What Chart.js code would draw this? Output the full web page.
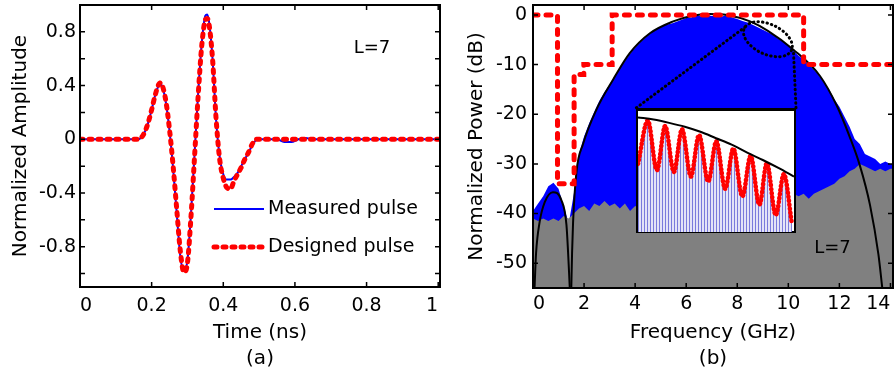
<!DOCTYPE html>
<html>
<head>
<meta charset="utf-8">
<script src="https://cdn.jsdelivr.net/npm/chart.js@4.4.1/dist/chart.umd.min.js"></script>
<style>
  html, body { margin: 0; padding: 0; background: #fff; }
  #wrap { position: relative; width: 894px; height: 378px; overflow: hidden; }
  #pulseCanvas { position: absolute; left: 0; top: 0; }
  #specCanvas { position: absolute; left: 450px; top: 0; }
  #inset { position: absolute; background: #fff; border: 2px solid #000; border-top-width: 3px; box-sizing: border-box; }
  #inset canvas { display: block; }
</style>
</head>
<body>
<div id="wrap">
  <canvas id="pulseCanvas" width="447" height="378"></canvas>
  <canvas id="specCanvas" width="444" height="378"></canvas>
  <div id="inset"><canvas id="insetCanvas"></canvas></div>
</div>
<script>
// ---- (a) time domain pulse ----
const pulseTime = [0, 0.05, 0.10, 0.15, 0.16, 0.17, 0.18, 0.19, 0.20, 0.21, 0.22, 0.225, 0.23, 0.24, 0.25, 0.26, 0.27, 0.28, 0.29, 0.30,
  0.31, 0.32, 0.33, 0.34, 0.35, 0.355, 0.36, 0.37, 0.38, 0.39, 0.40, 0.41, 0.42, 0.43, 0.44, 0.45, 0.46, 0.47, 0.48, 0.49,
  0.50, 0.55, 0.57, 0.59, 0.61, 0.63, 0.65, 0.70, 0.80, 0.90, 1.0];
const designedPulse = [0, 0, 0, 0, 0, 0.01, 0.05, 0.12, 0.22, 0.33, 0.41, 0.42, 0.40, 0.28, 0.07, -0.2, -0.52, -0.83, -0.99, -0.92,
  -0.57, -0.12, 0.33, 0.70, 0.89, 0.90, 0.86, 0.60, 0.15, -0.15, -0.29, -0.36, -0.37, -0.31, -0.26, -0.21, -0.15, -0.10, -0.04, 0,
  0, 0, 0, 0, 0, 0, 0, 0, 0, 0, 0];
const measuredPulse = [0, 0, 0, 0, 0, 0.01, 0.05, 0.12, 0.22, 0.33, 0.40, 0.41, 0.39, 0.27, 0.06, -0.22, -0.55, -0.87, -0.98, -0.9,
  -0.55, -0.1, 0.35, 0.72, 0.92, 0.93, 0.88, 0.6, 0.14, -0.13, -0.26, -0.3, -0.3, -0.28, -0.25, -0.2, -0.15, -0.1, -0.05, -0.01,
  0, 0, -0.02, -0.02, 0, 0.01, 0, 0, 0, 0, 0];
const timeTicks = [0, 0.2, 0.4, 0.6, 0.8, 1];
const timeTickLabels = ['0', '0.2', '0.4', '0.6', '0.8', '1'];
const ampTicks = [-1, -0.8, -0.6, -0.4, -0.2, 0, 0.2, 0.4, 0.6, 0.8, 1];
const ampTickLabels = ['', '-0.8', '', '-0.4', '', '0', '', '0.4', '', '0.8', ''];

// ---- (b) spectrum ----
const freqGrid = [0, 0.2, 0.4, 0.6, 0.8, 1.0, 1.2, 1.4, 1.6, 1.8, 2.0, 2.2, 2.4, 2.6, 2.8, 3.0, 3.2, 3.4, 3.6, 3.8,
  4.0, 4.2, 4.4, 4.6, 4.8, 5.0, 5.2, 5.4, 5.6, 5.8, 6.0, 6.2, 6.4, 6.6, 6.8, 7.0, 7.2, 7.4, 7.6, 7.8,
  8.0, 8.2, 8.4, 8.6, 8.8, 9.0, 9.2, 9.4, 9.6, 9.8, 10.0, 10.2, 10.4, 10.6, 10.8, 11.0, 11.2, 11.4, 11.6, 11.8,
  12.0, 12.2, 12.4, 12.6, 12.8, 13.0, 13.2, 13.4, 13.6, 13.8, 14.0, 14.1];
const spectrumDb = [-39.5, -38, -36.5, -34.5, -33.8, -35, -38.5, -42, -36, -28, -24.5, -21.8, -19.5, -17.3, -15.5, -14, -12.3, -10.8, -9.3, -7.8,
  -6.6, -5.5, -4.6, -3.7, -3, -2.4, -2, -1.8, -1.4, -1, -0.6, -0.5, 0, -0.3, 0, -0.2, 0, -0.3, 0, -0.5,
  -0.8, -1.2, -1.5, -2, -2.5, -3, -3.5, -4, -4.8, -5.4, -6.2, -7.2, -8.2, -9, -10, -11, -12.2, -13.6, -15, -17,
  -18.5, -20.5, -22.5, -25, -26, -28, -28.5, -29, -30, -29.5, -30, -30];
const noiseDb = [-41, -41.5, -41, -41.5, -41, -41.5, -40.5, -41, -40, -39, -38.5, -39.5, -38, -38.5, -37.5, -38.5, -38, -39, -38, -39.5,
  -38.5, -39, -38, -38.5, -37.5, -38.5, -37.5, -38.5, -37, -38, -37.5, -38.5, -37.5, -37, -38, -37, -37.5, -36.5, -37.5, -36.5,
  -37, -36, -37, -36, -35.5, -36.5, -35.5, -36, -35, -35.5, -35, -36, -36.5, -36, -37, -36, -35.5, -35, -34.5, -34,
  -33, -32.5, -31.5, -31, -30, -30.5, -31, -31.5, -31, -31.5, -31, -31];
const sideLobeFreq = [0.06, 0.12, 0.26, 0.46, 0.78, 1.11, 1.31, 1.41, 1.44];
const sideLobeDb = [-55, -48, -41.7, -37.7, -35.7, -37.3, -42.3, -51.6, -55];
const mainLobeFreq = [1.5, 1.53, 1.57, 1.7, 1.96, 2.49, 3.14, 3.79, 4.58, 5.49, 6.2, 6.9, 7.6, 8.5, 9.2, 10.2, 11.24, 11.9, 12.4, 12.8, 13.2, 13.53, 13.68];
const mainLobeDb = [-55, -48, -41.7, -31.7, -26, -19, -13, -7.7, -3.7, -1.3, -0.2, 0.2, 0, -1.3, -3.2, -7, -12.3, -18.3, -24.5, -30.3, -38.3, -48.3, -55];
const maskFreq = [0, 0.96, 0.96, 1.61, 1.61, 1.99, 1.99, 3.1, 3.1, 10.6, 10.6, 14.1];
const maskDb = [0, 0, -34, -34, -12, -12, -10, -10, 0, 0, -10, -10];
const freqTicks = [0, 2, 4, 6, 8, 10, 12, 14];
const powerTicks = [-50, -40, -30, -20, -10, 0];
const zoomLineA = [[4.05, -18.7], [8.37, -2.2]];
const zoomLineB = [[10.3, -18.7], [10.2, -7.2]];
const insetFreq = [4.05, 10.3];
const insetDb = [-44, -18.7];
const zoomCenter = [9.2, -4.9];

// ---- inset (zoom of the band edge), normalised box units ----
const insetEnvPos = [0, 0.1, 0.2, 0.3, 0.4, 0.5, 0.6, 0.7, 0.8, 0.9, 1.0];
const insetEnvLevel = [94.7, 92.9, 90.2, 87.0, 82.8, 77.5, 72.2, 65.6, 59.5, 52.9, 45.8];
const insetRipplePos = [0, 0.063, 0.121, 0.174, 0.23, 0.282, 0.339, 0.391, 0.45, 0.502, 0.559, 0.611, 0.669, 0.722, 0.778, 0.826, 0.883, 0.935, 0.987];
const insetRippleLevel = [56.3, 92.1, 51.1, 87.6, 49.7, 84.9, 45.8, 80.2, 41.8, 74.9, 35.7, 69.0, 29.4, 63.0, 22.5, 56.9, 14.0, 47.9, 6.6];

Chart.defaults.font.family = "'DejaVu Sans', sans-serif";
Chart.defaults.color = '#000';

const xy = (xs, ys) => xs.map((v, i) => ({ x: v, y: ys[i] }));
const pairs = p => p.map(([x, y]) => ({ x, y }));
// keep the plot box where the figure has it: no extra room for overhanging labels
const noOverhang = s => { s.paddingLeft = 0; s.paddingRight = 0; s.paddingTop = 0; s.paddingBottom = 0; };

// MATLAB style box with inward ticks on all four sides
const matlabBox = {
  id: 'matlabBox',
  afterDatasetsDraw(chart) {
    const { ctx, chartArea: a, scales: { x, y } } = chart;
    ctx.save();
    ctx.strokeStyle = '#000';
    ctx.lineWidth = 1.5;
    ctx.beginPath();
    x.ticks.forEach(t => {
      const px = x.getPixelForValue(t.value);
      ctx.moveTo(px, a.bottom); ctx.lineTo(px, a.bottom - 5);
      ctx.moveTo(px, a.top); ctx.lineTo(px, a.top + 5);
    });
    y.ticks.forEach(t => {
      const py = y.getPixelForValue(t.value);
      ctx.moveTo(a.left, py); ctx.lineTo(a.left + 5, py);
      ctx.moveTo(a.right, py); ctx.lineTo(a.right - 5, py);
    });
    ctx.stroke();
    ctx.lineWidth = 2;
    ctx.strokeRect(a.left, a.top, a.right - a.left, a.bottom - a.top);
    ctx.restore();
  }
};

function noteAt(chart, txt, xv, yv) {
  const ctx = chart.ctx;
  ctx.save();
  ctx.font = "18px 'DejaVu Sans', sans-serif";
  ctx.fillStyle = '#000';
  ctx.textAlign = 'center'; ctx.textBaseline = 'middle';
  ctx.fillText(txt, chart.scales.x.getPixelForValue(xv), chart.scales.y.getPixelForValue(yv));
  ctx.restore();
}

const tickFont = { size: 19 };
const titleFont = { size: 20, lineHeight: 1.3 };

// ── (a) pulse ──
new Chart(document.getElementById('pulseCanvas'), {
  type: 'line',
  data: {
    datasets: [
      {
        label: 'Measured pulse',
        data: xy(pulseTime, measuredPulse),
        borderColor: '#0000ff', borderWidth: 2,
        cubicInterpolationMode: 'monotone', pointRadius: 0, order: 2
      },
      {
        label: 'Designed pulse',
        data: xy(pulseTime, designedPulse),
        borderColor: '#ff0000', borderWidth: 5, borderDash: [3, 6], borderCapStyle: 'round',
        cubicInterpolationMode: 'monotone', pointRadius: 0, order: 1
      }
    ]
  },
  options: {
    responsive: false, animation: false, events: [],
    layout: { padding: { left: 0, top: 5, right: 7, bottom: 0 } },
    plugins: { legend: { display: false }, tooltip: { enabled: false } },
    scales: {
      x: {
        type: 'linear', min: 0, max: 1.005,
        afterBuildTicks: s => { s.ticks = timeTicks.map(v => ({ value: v })); },
        afterFit: s => { s.height = 91; noOverhang(s); },
        ticks: { font: tickFont, padding: 8, maxRotation: 0, autoSkip: false, align: 'inner', callback: (v, i) => timeTickLabels[i] },
        grid: { display: false, drawTicks: false }, border: { display: false },
        title: { display: true, text: ['Time (ns)', '(a)'], font: titleFont, padding: { top: 0, bottom: 6 } }
      },
      y: {
        min: -1.1, max: 1.0,
        afterBuildTicks: s => { s.ticks = ampTicks.map(v => ({ value: v })); },
        afterFit: s => { s.width = 80; noOverhang(s); },
        ticks: { font: tickFont, padding: 4, autoSkip: false, callback: (v, i) => ampTickLabels[i] },
        grid: { display: false, drawTicks: false }, border: { display: false },
        title: { display: true, text: 'Normalized Amplitude', font: { size: 20 }, padding: { top: 9, bottom: 0 } }
      }
    }
  },
  plugins: [matlabBox, {
    id: 'pulseLegend',
    afterDatasetsDraw(chart) {
      const { ctx, chartArea: a } = chart;
      const rows = [{ ds: 0, y: a.top + 204 }, { ds: 1, y: a.top + 242 }];
      ctx.save();
      rows.forEach(r => {
        const d = chart.data.datasets[r.ds];
        ctx.strokeStyle = d.borderColor; ctx.lineWidth = d.borderWidth;
        ctx.setLineDash(d.borderDash || []);
        ctx.lineCap = d.borderCapStyle || 'butt';
        ctx.beginPath(); ctx.moveTo(a.left + 134, r.y); ctx.lineTo(a.left + 184, r.y); ctx.stroke();
        ctx.setLineDash([]);
        ctx.fillStyle = '#000';
        ctx.font = "19px 'DejaVu Sans', sans-serif";
        ctx.textAlign = 'left'; ctx.textBaseline = 'middle';
        ctx.fillText(d.label, a.left + 188, r.y);
      });
      ctx.restore();
      noteAt(chart, 'L=7', 0.815, 0.68);
    }
  }]
});

// ── (b) spectrum ──
const dotted = { borderColor: '#000', borderWidth: 3, borderDash: [0.5, 4], borderCapStyle: 'round', pointRadius: 0 };
const specChart = new Chart(document.getElementById('specCanvas'), {
  type: 'line',
  data: {
    datasets: [
      { label: 'Spectrum', data: xy(freqGrid, spectrumDb), borderWidth: 0, backgroundColor: '#0000ff', fill: 'start', pointRadius: 0, order: 6 },
      { label: 'Noise floor', data: xy(freqGrid, noiseDb), borderWidth: 0, backgroundColor: '#808080', fill: 'start', pointRadius: 0, order: 5 },
      { label: 'Envelope side', data: xy(sideLobeFreq, sideLobeDb), borderColor: '#000', borderWidth: 2, cubicInterpolationMode: 'monotone', pointRadius: 0, order: 3 },
      { label: 'Envelope main', data: xy(mainLobeFreq, mainLobeDb), borderColor: '#000', borderWidth: 2, cubicInterpolationMode: 'monotone', pointRadius: 0, order: 3 },
      { label: 'Zoom A', data: pairs(zoomLineA), ...dotted, order: 2 },
      { label: 'Zoom B', data: pairs(zoomLineB), ...dotted, order: 2 },
      { label: 'Mask', data: xy(maskFreq, maskDb), borderColor: '#ff0000', borderWidth: 5, borderDash: [5, 8], borderCapStyle: 'round', pointRadius: 0, order: 1 }
    ]
  },
  options: {
    responsive: false, animation: false, events: [],
    layout: { padding: { left: 0, top: 5, right: 1, bottom: 0 } },
    plugins: { legend: { display: false }, tooltip: { enabled: false } },
    scales: {
      x: {
        type: 'linear', min: 0, max: 14.1,
        afterBuildTicks: s => { s.ticks = freqTicks.map(v => ({ value: v })); },
        afterFit: s => { s.height = 90; noOverhang(s); },
        ticks: { font: tickFont, padding: 5, maxRotation: 0, autoSkip: false, align: 'inner' },
        grid: { display: false, drawTicks: false }, border: { display: false },
        title: { display: true, text: ['Frequency (GHz)', '(b)'], font: titleFont, padding: { top: 0, bottom: 6 } }
      },
      y: {
        min: -55, max: 2,
        afterBuildTicks: s => { s.ticks = powerTicks.map(v => ({ value: v })); },
        afterFit: s => { s.width = 83; noOverhang(s); },
        ticks: { font: tickFont, padding: 6, autoSkip: false },
        grid: { display: false, drawTicks: false }, border: { display: false },
        title: { display: true, text: 'Normalized Power (dB)', font: { size: 20 }, padding: { top: 15, bottom: 0 } }
      }
    }
  },
  plugins: [matlabBox, {
    id: 'zoomMark',
    afterDatasetsDraw(chart) {
      const { ctx, scales: { x, y } } = chart;
      ctx.save();
      ctx.strokeStyle = '#000'; ctx.lineWidth = 3;
      ctx.setLineDash([0.5, 4]); ctx.lineCap = 'round';
      ctx.beginPath();
      ctx.ellipse(x.getPixelForValue(zoomCenter[0]), y.getPixelForValue(zoomCenter[1]), 26, 15, 25 * Math.PI / 180, 0, 2 * Math.PI);
      ctx.stroke();
      ctx.restore();
      noteAt(chart, 'L=7', 11.73, -47);
    }
  }]
});

// ── inset placed over the data window it covers ──
const sx = specChart.scales.x, sy = specChart.scales.y;
const offX = document.getElementById('specCanvas').offsetLeft;
const boxL = offX + sx.getPixelForValue(insetFreq[0]);
const boxR = offX + sx.getPixelForValue(insetFreq[1]);
const boxT = sy.getPixelForValue(insetDb[1]);
const boxB = sy.getPixelForValue(insetDb[0]);
const insetDiv = document.getElementById('inset');
insetDiv.style.left = boxL + 'px';
insetDiv.style.top = boxT + 'px';
insetDiv.style.width = (boxR - boxL) + 'px';
insetDiv.style.height = (boxB - boxT) + 'px';
const insetCanvas = document.getElementById('insetCanvas');
insetCanvas.width = Math.round(boxR - boxL - 4);
insetCanvas.height = Math.round(boxB - boxT - 5);

// light blue spectral lines under the ripple
const pc = document.createElement('canvas');
pc.width = 3; pc.height = 4;
const pctx = pc.getContext('2d');
pctx.fillStyle = '#e4e4f7'; pctx.fillRect(0, 0, 3, 4);
pctx.fillStyle = '#7b7bdc'; pctx.fillRect(0, 0, 1, 4);
const linePattern = pctx.createPattern(pc, 'repeat');

new Chart(insetCanvas, {
  type: 'line',
  data: {
    datasets: [
      { label: 'Envelope', data: xy(insetEnvPos, insetEnvLevel), borderColor: '#000', borderWidth: 2, cubicInterpolationMode: 'monotone', pointRadius: 0, order: 1 },
      { label: 'Ripple', data: xy(insetRipplePos, insetRippleLevel), borderColor: '#ff0000', borderWidth: 4.5, borderDash: [0.5, 3.5], borderCapStyle: 'round',
        backgroundColor: linePattern, fill: 'start', cubicInterpolationMode: 'monotone', pointRadius: 0, order: 2 }
    ]
  },
  options: {
    responsive: false, animation: false, events: [],
    layout: { padding: 0 },
    plugins: { legend: { display: false }, tooltip: { enabled: false } },
    scales: {
      x: { type: 'linear', min: 0, max: 1, display: false },
      y: { min: 0, max: 100, display: false }
    }
  }
});
</script>
</body>
</html>
